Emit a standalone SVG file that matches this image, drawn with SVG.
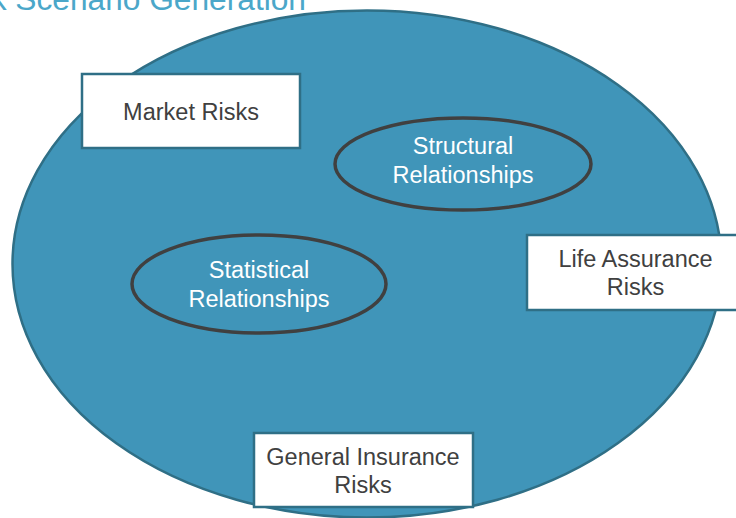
<svg xmlns="http://www.w3.org/2000/svg" width="736" height="518" viewBox="0 0 736 518">
<style>
.title{font-family:"Liberation Sans",Arial,sans-serif;font-size:31.7px;fill:#4BA7C9}
.box{fill:#FFFFFF;stroke:#2F6F86;stroke-width:2.5}
.btxt{font-family:"Liberation Sans",Arial,sans-serif;font-size:23.5px;fill:#404040;text-anchor:middle}
.oval{fill:#4095B9;stroke:#404040;stroke-width:3.5}
.otxt{font-family:"Liberation Sans",Arial,sans-serif;font-size:23.5px;fill:#FFFFFF;text-anchor:middle}
</style>
<rect width="736" height="518" fill="#FFFFFF"/>
<text class="title" x="306" y="10" text-anchor="end">Risk Scenario Generation</text>
<g id="universe">
<ellipse cx="367" cy="264" rx="354.5" ry="253.5" fill="#4095B9" stroke="#2F6F86" stroke-width="2.5"/>
</g>
<g id="connectors"></g>
<g id="market-risks">
<rect class="box" x="82" y="74" width="218" height="74"/>
<text class="btxt" x="191" y="120">Market Risks</text>
</g>
<g id="structural">
<ellipse class="oval" cx="463" cy="164" rx="128" ry="46"/>
<text class="otxt" x="463" y="154">Structural</text>
<text class="otxt" x="463" y="183">Relationships</text>
</g>
<g id="statistical">
<ellipse class="oval" cx="259" cy="284" rx="127" ry="49"/>
<text class="otxt" x="259" y="278">Statistical</text>
<text class="otxt" x="259" y="307">Relationships</text>
</g>
<g id="life-assurance">
<rect class="box" x="527" y="235" width="215" height="75"/>
<text class="btxt" x="635.5" y="267">Life Assurance</text>
<text class="btxt" x="635.5" y="295">Risks</text>
</g>
<g id="general-insurance">
<rect class="box" x="254" y="433" width="219" height="74"/>
<text class="btxt" x="363" y="465">General Insurance</text>
<text class="btxt" x="363" y="493">Risks</text>
</g>
</svg>
